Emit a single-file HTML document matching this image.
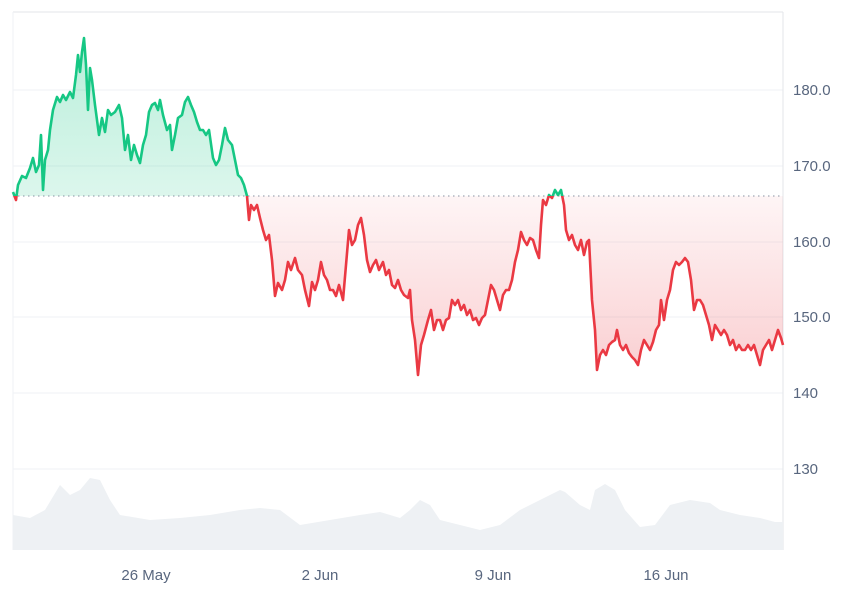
<!DOCTYPE html>
<html><head><style>
body{margin:0;background:#fff;}
svg text{font-family:"Liberation Sans",sans-serif;font-size:15px;fill:#58667e;}
</style></head><body>
<svg width="846" height="593" viewBox="0 0 846 593" xmlns="http://www.w3.org/2000/svg">
<defs>
<linearGradient id="rg" x1="0" y1="196" x2="0" y2="380" gradientUnits="userSpaceOnUse">
<stop offset="0" stop-color="#ea3943" stop-opacity="0.05"/>
<stop offset="1" stop-color="#ea3943" stop-opacity="0.25"/>
</linearGradient>
<linearGradient id="gg" x1="0" y1="40" x2="0" y2="196" gradientUnits="userSpaceOnUse">
<stop offset="0" stop-color="#16c784" stop-opacity="0.3"/>
<stop offset="1" stop-color="#16c784" stop-opacity="0.15"/>
</linearGradient>
<clipPath id="up"><rect x="0" y="0" width="846" height="196"/></clipPath>
<clipPath id="dn"><rect x="0" y="196" width="846" height="400"/></clipPath>
<path id="pl" fill="none" d="M13,192 L16,200 L18,185 L22,176 L26,178 L30,168 L33,158 L36,172 L39,165 L41,135 L43,190 L45,160 L48,150 L50,130 L53,110 L57,97 L60,102 L63,95 L66,100 L70,92 L73,98 L76,75 L78,55 L80,72 L82,52 L84,38 L86,65 L88,110 L90,68 L92,80 L95,105 L99,135 L102,118 L105,132 L108,110 L111,115 L115,112 L119,105 L122,118 L125,150 L128,135 L131,160 L134,145 L137,155 L140,163 L143,145 L146,135 L149,112 L152,105 L155,103 L158,110 L160,100 L163,115 L167,130 L170,125 L172,150 L175,135 L178,118 L182,115 L185,102 L188,97 L191,105 L194,112 L197,122 L200,130 L203,130 L206,135 L209,130 L213,158 L216,165 L219,160 L222,145 L225,128 L228,140 L232,145 L235,160 L238,175 L241,178 L244,185 L247,196 L249,220 L251,205 L254,210 L257,205 L260,218 L263,230 L266,240 L269,235 L272,260 L275,296 L278,283 L282,290 L285,280 L288,262 L291,270 L295,258 L298,270 L302,275 L305,290 L309,306 L312,282 L315,290 L318,280 L321,262 L324,275 L327,280 L330,290 L333,290 L336,296 L339,285 L343,300 L346,265 L349,230 L352,245 L355,240 L358,225 L361,218 L364,235 L367,260 L370,272 L373,265 L376,260 L379,270 L383,262 L386,275 L389,270 L392,285 L395,288 L398,280 L401,290 L404,295 L408,298 L410,290 L412,320 L415,340 L418,375 L421,345 L424,335 L428,320 L431,310 L434,330 L437,320 L440,320 L443,330 L446,320 L449,318 L452,300 L455,305 L458,300 L461,310 L464,305 L467,315 L470,310 L473,320 L476,318 L479,325 L482,318 L485,315 L488,300 L491,285 L494,290 L497,300 L500,310 L503,295 L506,290 L509,290 L512,280 L515,262 L518,250 L521,232 L524,240 L527,245 L530,238 L533,240 L536,250 L539,258 L541,225 L543,200 L546,205 L549,195 L552,198 L555,190 L558,195 L561,190 L564,205 L566,230 L569,240 L572,235 L575,245 L578,250 L581,240 L584,255 L587,242 L589,240 L592,300 L595,330 L597,370 L600,355 L603,350 L606,355 L609,345 L612,342 L615,340 L617,330 L620,345 L623,350 L626,345 L629,353 L632,357 L635,360 L638,365 L641,350 L644,340 L647,345 L650,350 L653,342 L656,330 L659,325 L661,300 L664,320 L667,300 L670,290 L673,270 L676,262 L679,265 L682,262 L685,258 L688,262 L691,280 L694,310 L697,300 L700,300 L703,305 L706,315 L709,325 L712,340 L715,325 L718,330 L721,335 L724,330 L727,335 L730,345 L733,340 L736,350 L739,345 L742,350 L745,350 L748,345 L751,350 L754,345 L757,355 L760,365 L763,350 L766,345 L769,340 L772,350 L775,340 L778,330 L781,338 L783,345"/>
</defs>
<g stroke="#eff2f5" stroke-width="1">
<line x1="13" y1="12" x2="783" y2="12" stroke="#e3e6ea"/>
<line x1="13" y1="90" x2="783" y2="90"/>
<line x1="13" y1="166" x2="783" y2="166"/>
<line x1="13" y1="242" x2="783" y2="242"/>
<line x1="13" y1="317" x2="783" y2="317"/>
<line x1="13" y1="393" x2="783" y2="393"/>
<line x1="13" y1="469" x2="783" y2="469"/>
<line x1="13" y1="12" x2="13" y2="550"/>
<line x1="783" y1="12" x2="783" y2="550" stroke="#e3e6ea"/>
</g>
<path fill="#eef1f4" d="M13,550 L13,515 L30,518 L45,510 L60,485 L70,495 L80,490 L90,478 L100,480 L110,500 L120,515 L150,520 L180,518 L210,515 L240,510 L260,508 L280,510 L300,525 L330,520 L360,515 L380,512 L400,518 L410,510 L420,500 L430,505 L440,520 L460,525 L480,530 L500,525 L520,510 L540,500 L560,490 L565,492 L580,505 L590,510 L595,490 L605,484 L615,490 L625,510 L640,527 L655,525 L670,505 L690,500 L710,503 L720,510 L740,515 L760,518 L775,522 L783,522 L783,550 Z"/>
<!-- fills: clip using a polygon approach: large rects masked by the line via area path -->
<clipPath id="area"><path d="M13,196 L13,192 L16,200 L18,185 L22,176 L26,178 L30,168 L33,158 L36,172 L39,165 L41,135 L43,190 L45,160 L48,150 L50,130 L53,110 L57,97 L60,102 L63,95 L66,100 L70,92 L73,98 L76,75 L78,55 L80,72 L82,52 L84,38 L86,65 L88,110 L90,68 L92,80 L95,105 L99,135 L102,118 L105,132 L108,110 L111,115 L115,112 L119,105 L122,118 L125,150 L128,135 L131,160 L134,145 L137,155 L140,163 L143,145 L146,135 L149,112 L152,105 L155,103 L158,110 L160,100 L163,115 L167,130 L170,125 L172,150 L175,135 L178,118 L182,115 L185,102 L188,97 L191,105 L194,112 L197,122 L200,130 L203,130 L206,135 L209,130 L213,158 L216,165 L219,160 L222,145 L225,128 L228,140 L232,145 L235,160 L238,175 L241,178 L244,185 L247,196 L249,220 L251,205 L254,210 L257,205 L260,218 L263,230 L266,240 L269,235 L272,260 L275,296 L278,283 L282,290 L285,280 L288,262 L291,270 L295,258 L298,270 L302,275 L305,290 L309,306 L312,282 L315,290 L318,280 L321,262 L324,275 L327,280 L330,290 L333,290 L336,296 L339,285 L343,300 L346,265 L349,230 L352,245 L355,240 L358,225 L361,218 L364,235 L367,260 L370,272 L373,265 L376,260 L379,270 L383,262 L386,275 L389,270 L392,285 L395,288 L398,280 L401,290 L404,295 L408,298 L410,290 L412,320 L415,340 L418,375 L421,345 L424,335 L428,320 L431,310 L434,330 L437,320 L440,320 L443,330 L446,320 L449,318 L452,300 L455,305 L458,300 L461,310 L464,305 L467,315 L470,310 L473,320 L476,318 L479,325 L482,318 L485,315 L488,300 L491,285 L494,290 L497,300 L500,310 L503,295 L506,290 L509,290 L512,280 L515,262 L518,250 L521,232 L524,240 L527,245 L530,238 L533,240 L536,250 L539,258 L541,225 L543,200 L546,205 L549,195 L552,198 L555,190 L558,195 L561,190 L564,205 L566,230 L569,240 L572,235 L575,245 L578,250 L581,240 L584,255 L587,242 L589,240 L592,300 L595,330 L597,370 L600,355 L603,350 L606,355 L609,345 L612,342 L615,340 L617,330 L620,345 L623,350 L626,345 L629,353 L632,357 L635,360 L638,365 L641,350 L644,340 L647,345 L650,350 L653,342 L656,330 L659,325 L661,300 L664,320 L667,300 L670,290 L673,270 L676,262 L679,265 L682,262 L685,258 L688,262 L691,280 L694,310 L697,300 L700,300 L703,305 L706,315 L709,325 L712,340 L715,325 L718,330 L721,335 L724,330 L727,335 L730,345 L733,340 L736,350 L739,345 L742,350 L745,350 L748,345 L751,350 L754,345 L757,355 L760,365 L763,350 L766,345 L769,340 L772,350 L775,340 L778,330 L781,338 L783,345 L783,196 Z"/></clipPath>
<g clip-path="url(#area)">
<rect x="13" y="0" width="770" height="196" fill="url(#gg)"/>
<rect x="13" y="196" width="770" height="200" fill="url(#rg)"/>
</g>
<line x1="13" y1="196" x2="783" y2="196" stroke="#8a93a3" stroke-width="1" stroke-dasharray="1.5,3.5"/>
<g clip-path="url(#up)"><use href="#pl" stroke="#16c784" stroke-width="2.6" stroke-linejoin="round"/></g>
<g clip-path="url(#dn)"><use href="#pl" stroke="#ea3943" stroke-width="2.6" stroke-linejoin="round"/></g>
<text x="793" y="95">180.0</text>
<text x="793" y="171">170.0</text>
<text x="793" y="247">160.0</text>
<text x="793" y="322">150.0</text>
<text x="793" y="398">140</text>
<text x="793" y="474">130</text>
<text x="146" y="580" text-anchor="middle">26 May</text>
<text x="320" y="580" text-anchor="middle">2 Jun</text>
<text x="493" y="580" text-anchor="middle">9 Jun</text>
<text x="666" y="580" text-anchor="middle">16 Jun</text>
</svg>
</body></html>
